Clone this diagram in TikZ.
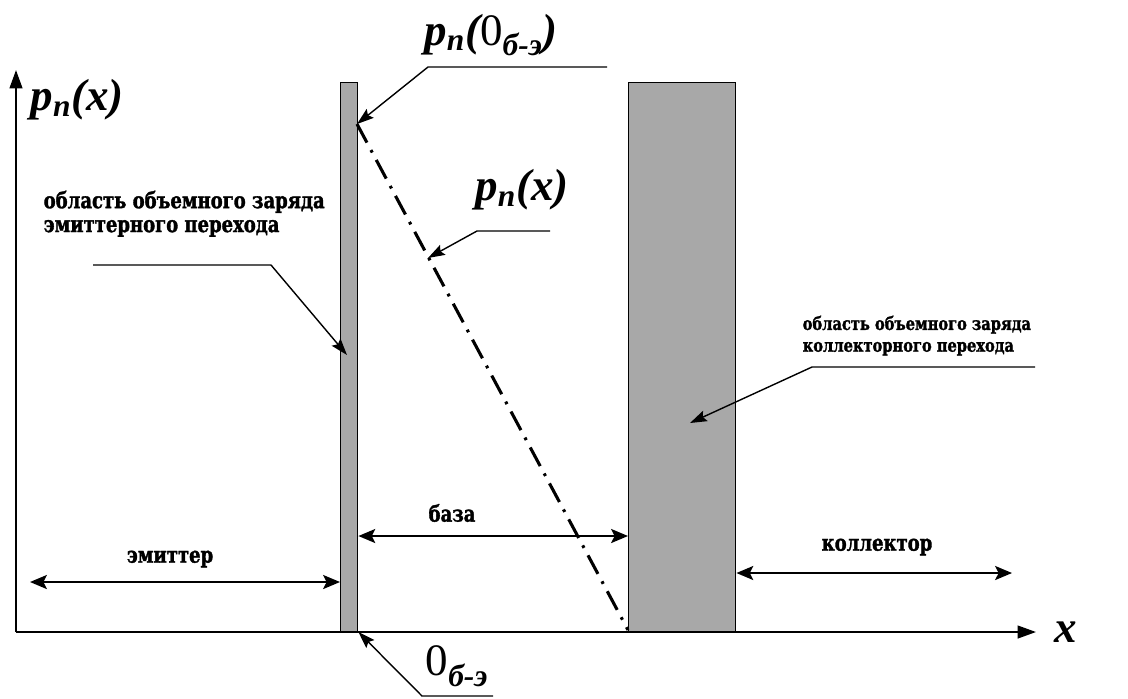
\documentclass[tikz,border=0pt]{standalone}
\usepackage{fontspec}
\setmainfont{Liberation Serif}
\newfontfamily\lblfont[FakeStretch=0.8, BoldFeatures={FakeBold=1.5}]{DejaVu Serif}
\usetikzlibrary{arrows.meta, positioning}
\definecolor{barfill}{RGB}{168,168,168}
\newcommand{\pnsym}[1]{\textbf{\textit{p\textsubscript{n}(#1)}}}
\newcommand{\zerobe}{{\normalfont 0}\textsubscript{\textbf{\textit{б-э}}}}

\begin{document}
\begin{tikzpicture}[x=0.25mm, y=-0.25mm, line width=1pt,
  axis/.style={-{Triangle[length=13pt,width=9pt]}, line width=1.4pt},
  bar/.style={draw, fill=barfill, line width=1pt, inner sep=0pt, anchor=south west},
  profile/.style={line width=2.2pt, dash pattern=on 15pt off 6pt on 2pt off 6pt},
  dimarrow/.style={{Stealth[length=12pt,width=10pt,inset=2.5pt]}-{Stealth[length=12pt,width=10pt,inset=2.5pt]}, line width=1.4pt},
  leader/.style={-{Stealth[length=12pt,width=8pt,inset=2pt]}, line width=1pt},
  note/.style={font=\lblfont\bfseries\fontsize{16}{17}\selectfont, align=left, inner sep=0pt},
  tag/.style={font=\lblfont\bfseries\fontsize{16}{17}\selectfont, inner sep=0pt},
  sym/.style={font=\fontsize{32}{34}\selectfont, inner sep=0pt}]
  \useasboundingbox (0,0) rectangle (1128,698);
  % --- axes ---
  \coordinate (O) at (16,632);
  \coordinate (ytop) at (16,70);
  \coordinate (xend) at (1036,632);
  \draw[axis] (O) -- (ytop);
  \draw[axis] (O) -- (xend);
  \node[sym, anchor=west] (ylab) at (30,100) {\pnsym{x}};
  \node[sym] (xlab) at (1066,632) {\textbf{\textit{x}}};
  % --- junction regions ---
  \node[bar, minimum width=4.25mm, minimum height=137.25mm] (eb) at (340,632) {};
  \node[bar, minimum width=26.75mm, minimum height=137.25mm] (cb) at (628,632) {};
  % --- hole profile ---
  \coordinate (p0) at (357,124);
  \coordinate (pw) at (628,630);
  \draw[profile] (p0) -- (pw);
  % --- p_n(0) label ---
  \node[sym] (lab0) at (491,35) {\pnsym{\zerobe}};
  \coordinate (k0) at (428,67);
  \coordinate (k0e) at (607,67);
  \draw[leader] (k0e) -- (k0) -- (p0);
  % --- p_n(x) label ---
  \node[sym] (labx) at (522,190) {\pnsym{x}};
  \coordinate (kx) at (477,231);
  \coordinate (kxe) at (550,231);
  \coordinate (px) at (428,258);
  \draw[leader] (kxe) -- (kx) -- (px);
  % --- emitter junction note ---
  \node[note, anchor=north west] (en) at (43,190) {область объемного заряда\\эмиттерного перехода};
  \coordinate (ke) at (271,265);
  \coordinate (kes) at (93,265);
  \coordinate (pe) at (347,355);
  \draw[leader] (kes) -- (ke) -- (pe);
  % --- collector junction note ---
  \node[note, font=\lblfont\bfseries\fontsize{13}{15.5}\selectfont, anchor=north west] (cn) at (802,315) {область объемного заряда\\коллекторного перехода};
  \coordinate (kc) at (812,367);
  \coordinate (kce) at (1035,367);
  \coordinate (pc) at (690,423);
  \draw[leader] (kce) -- (kc) -- (pc);
  % --- origin label ---
  \node[sym] (labb) at (457,666) {\zerobe};
  \coordinate (kb) at (422,696);
  \coordinate (kbe) at (493,696);
  \draw[leader] (kbe) -- (kb) -- (eb.south east);
  % --- regions ---
  \coordinate (e1) at (30,582);
  \draw[dimarrow] (e1) -- (eb.west |- e1);
  \node[tag] (emt) at (170,559) {эмиттер};
  \coordinate (b1) at (0,536);
  \draw[dimarrow] (eb.east |- b1) -- (cb.west |- b1);
  \node[tag] (bas) at (452,513) {база};
  \coordinate (c2) at (1012,573);
  \draw[dimarrow] (cb.east |- c2) -- (c2);
  \node[tag] (col) at (877,547) {коллектор};
\end{tikzpicture}
\end{document}
